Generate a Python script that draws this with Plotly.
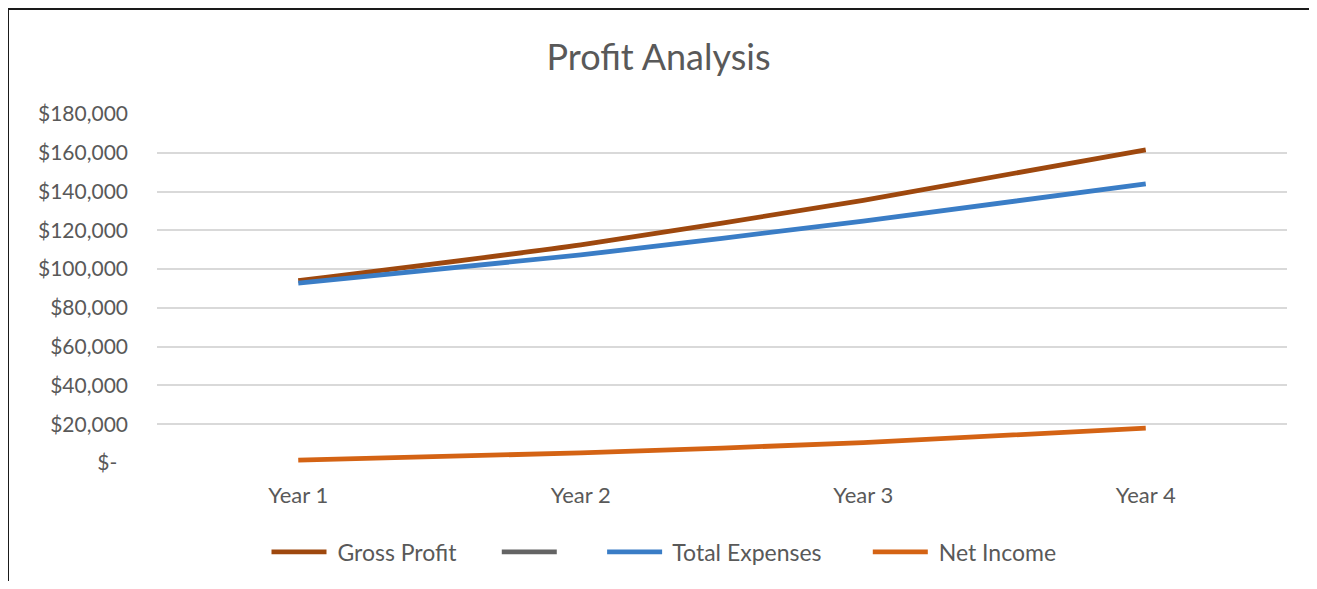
import plotly.graph_objects as go

categories = ["Year 1", "Year 2", "Year 3", "Year 4"]
gross_profit = [94000, 112500, 135500, 161500]
blank_series = [None, None, None, None]
total_expenses = [92800, 107300, 124800, 143900]
net_income = [1500, 5200, 10500, 18000]

tick_vals = [0, 20000, 40000, 60000, 80000, 100000, 120000, 140000, 160000, 180000]
tick_text = ["$-\u00a0\u00a0", "$20,000", "$40,000", "$60,000", "$80,000", "$100,000",
             "$120,000", "$140,000", "$160,000", "$180,000"]

font_family = "Lato, 'Open Sans', sans-serif"
text_color = "#595959"
NB = "\u00a0"

fig = go.Figure()
series = [
    (NB + "Gross Profit" + NB * 6, gross_profit, "#9E480E"),
    (NB * 6, blank_series, "#646464"),
    (NB + "Total Expenses" + NB * 7, total_expenses, "#3A7DC6"),
    (NB + "Net Income", net_income, "#D46314"),
]
for name, vals, color in series:
    fig.add_trace(go.Scatter(
        x=categories, y=vals, name=name, mode="lines",
        line=dict(color=color, width=4.8, shape="spline", smoothing=0.6),
        showlegend=True,
    ))

W, H = 1301, 573
fig.update_layout(
    width=W, height=H,
    margin=dict(l=149, r=W - 1279, t=106, b=H - 455, autoexpand=False),
    paper_bgcolor="white", plot_bgcolor="white",
    title=dict(text="Profit Analysis", x=0.5, xanchor="center", y=1 - 49 / H, yanchor="middle",
               font=dict(family=font_family, size=36, color=text_color)),
    font=dict(family=font_family, color=text_color),
    xaxis=dict(range=[-0.5, 3.5], showgrid=False, zeroline=False, showline=False,
               tickfont=dict(size=22, color=text_color), ticks="", ticklabelstandoff=17,
               automargin=False),
    yaxis=dict(range=[0, 180000], tickvals=tick_vals, ticktext=tick_text,
               showgrid=True, gridcolor="#D9D9D9", gridwidth=1.5, zeroline=False,
               showline=False, ticks="", tickfont=dict(size=21, color=text_color),
               ticklabelstandoff=28, automargin=False),
    legend=dict(orientation="h", xref="container", x=(664 - 8) / W, xanchor="center",
                yref="container", y=1 - 544 / H, yanchor="middle",
                font=dict(size=23, color=text_color),
                itemwidth=55, traceorder="normal"),
    shapes=[dict(type="rect", xref="paper", yref="paper",
                 x0=-149 / 1130, x1=1.3, y0=-0.5, y1=(455 - 1) / 349,
                 line=dict(color="#1a1a1a", width=2), layer="below")],
)

fig.write_html("out.html")
